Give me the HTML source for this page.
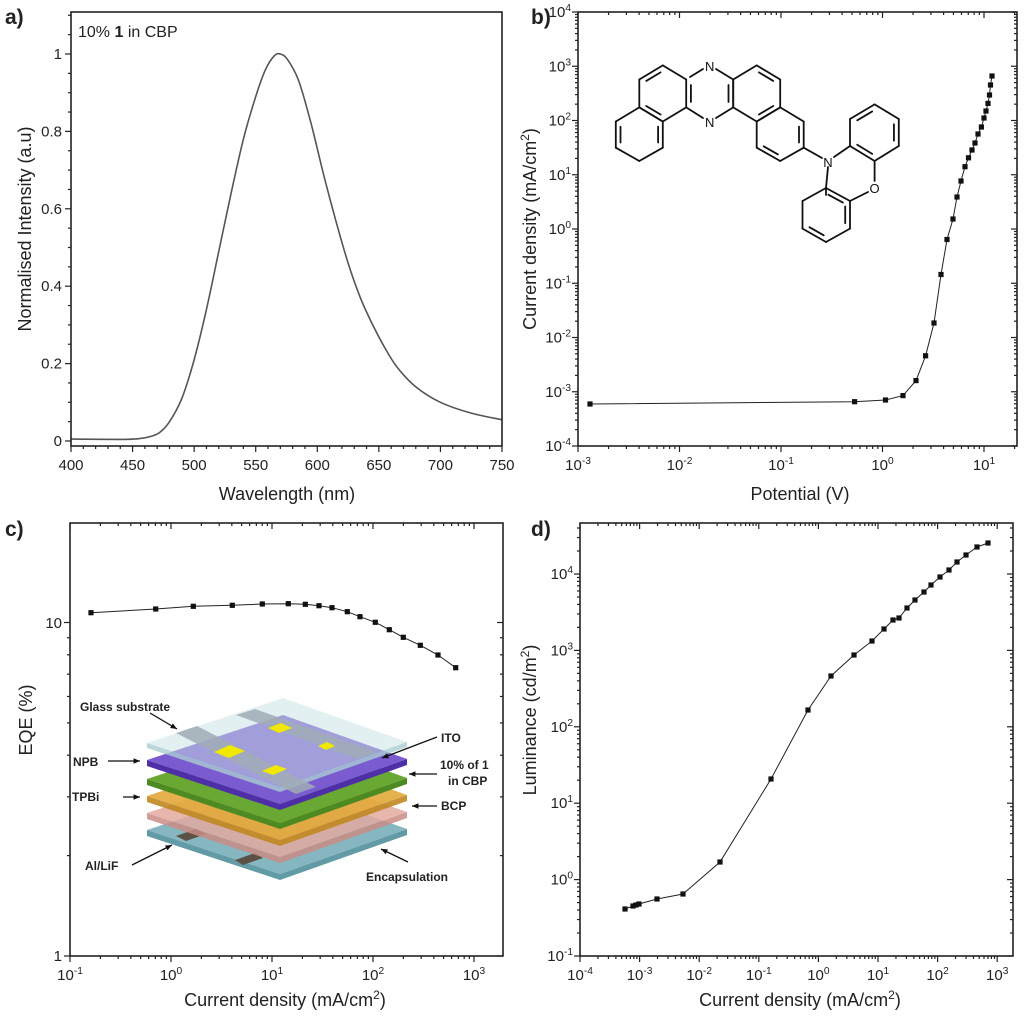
<!DOCTYPE html>
<html><head><meta charset="utf-8"><style>
html,body{margin:0;padding:0;background:#fff;}
svg{display:block;font-family:"Liberation Sans",Arial,sans-serif;}
</style></head><body>
<svg id="s" width="1024" height="1020" viewBox="0 0 1024 1020" xmlns="http://www.w3.org/2000/svg">
<rect width="1024" height="1020" fill="#fff"/>
<g id="g"></g>
<g id="dev" stroke="none">
</g>
<g id="mol" stroke="#111" stroke-width="1.8" fill="none" stroke-linecap="round"></g>
<g font-size="12" font-weight="bold" fill="#222">
<text x="80" y="711">Glass substrate</text>
<text x="73" y="766">NPB</text>
<text x="72" y="801">TPBi</text>
<text x="85" y="870">Al/LiF</text>
<text x="441" y="742">ITO</text>
<text x="440" y="769">10% of 1</text>
<text x="448" y="785">in CBP</text>
<text x="441" y="810">BCP</text>
<text x="366" y="881">Encapsulation</text>
</g>
</svg>
<script>
var NS="http://www.w3.org/2000/svg",G=document.getElementById('g');
function el(t,a,p,txt){var e=document.createElementNS(NS,t);for(var k in a)e.setAttribute(k,a[k]);if(txt!=null)e.textContent=txt;(p||G).appendChild(e);return e;}
function line(x1,y1,x2,y2,w,c,p){return el('line',{x1:x1,y1:y1,x2:x2,y2:y2,stroke:c||'#222','stroke-width':w||1},p);}
function txt(x,y,s,size,anchor,extra,p){var a={x:x,y:y,'font-size':size,'text-anchor':anchor||'middle',fill:'#222'};for(var k in extra)a[k]=extra[k];return el('text',a,p,s);}
function pow(x,y,e,size,anchor){var t=el('text',{x:x,y:y,'font-size':size,'text-anchor':anchor||'middle',fill:'#222'});
 var a=el('tspan',{},t,'10');var b=el('tspan',{dy:-6,'font-size':size*0.68},t,String(e));return t;}
function box(l,t,r,b){el('rect',{x:l,y:t,width:r-l,height:b-t,fill:'none',stroke:'#222','stroke-width':1.6});}
function logX(l,r,t,b,x0,e0,ppd,emin,emax,lab,top){
 for(var e=emin;e<=emax;e++){for(var k=1;k<10;k++){var x=x0+(e-e0+Math.log10(k))*ppd;if(x<l-0.5||x>r+0.5)continue;var L=k==1?6:3;
 line(x,b,x,b+L,1.2);if(top)line(x,t,x,t+L,1.2);
 if(k==1&&lab)pow(x,b+24,e,15);}}}
function logY(l,r,t,b,y0,e0,ppd,emin,emax,lab,right){
 for(var e=emin;e<=emax;e++){for(var k=1;k<10;k++){var y=y0-(e-e0+Math.log10(k))*ppd;if(y<t-0.5||y>b+0.5)continue;var L=k==1?6:3;
 line(l-L,y,l,y,1.2);if(right)line(r-L,y,r,y,1.2);
 if(k==1&&lab)pow(l-7,y+5,e,15,'end');}}}
function poly(pts,p){el('polyline',{points:pts.map(function(q){return q.join(',')}).join(' '),fill:'none',stroke:'#222','stroke-width':1},p);
 pts.forEach(function(q){el('rect',{x:q[0]-2.6,y:q[1]-2.6,width:5.2,height:5.2,fill:'#111'},p);});}

(function(){var l=71,r=502,t=12,b=446;
 var X=function(w){return l+(w-400)*(r-l)/350},Y=function(v){return 441-v*387};
 var d=[[400,.005],[440,.004],[455,.006],[465,.012],[472,.022],[480,.05],[490,.11],[500,.21],[510,.34],[520,.49],[530,.64],[540,.78],[550,.89],[558,.96],[565,.995],[570,1],[576,.985],[585,.93],[595,.82],[605,.69],[615,.57],[625,.46],[635,.37],[645,.3],[655,.24],[665,.19],[680,.14],[700,.1],[725,.072],[750,.055]];
 var s='M'+X(d[0][0])+','+Y(d[0][1]);
 for(var i=1;i<d.length;i++){var p0=d[Math.max(0,i-2)],p1=d[i-1],p2=d[i],p3=d[Math.min(d.length-1,i+1)];
  var c1=[X(p1[0])+(X(p2[0])-X(p0[0]))/6,Y(p1[1])+(Y(p2[1])-Y(p0[1]))/6],c2=[X(p2[0])-(X(p3[0])-X(p1[0]))/6,Y(p2[1])-(Y(p3[1])-Y(p1[1]))/6];
  s+=' C'+c1+' '+c2+' '+X(p2[0])+','+Y(p2[1]);}
 el('path',{d:s,fill:'none',stroke:'#555','stroke-width':1.6});
 box(l,t,r,b);
 for(var w=400;w<=750;w+=10){var x=X(w),L=w%50==0?6:3;line(x,b,x,b+L,1.2);if(w%50==0)txt(x,b+24,String(w),15);}
 for(var v=0;v<=1.12;v+=0.05){var y=Y(v);if(y<t)break;var mj=Math.abs(v/0.2-Math.round(v/0.2))<1e-6;line(l-(mj?6:3),y,l,y,1.2);
  if(mj)txt(l-9,y+5,String(Math.round(v*10)/10),15,'end');}
 txt(287,500,'Wavelength (nm)',18);
 txt(0,0,'Normalised Intensity (a.u)',18,'middle',{transform:'translate(31,229) rotate(-90)'});
 var t1=el('text',{x:78,y:37,'font-size':16,fill:'#222'});el('tspan',{},t1,'10%  ');el('tspan',{'font-weight':'bold'},t1,'1');el('tspan',{},t1,' in CBP');
 txt(5,24,'a)',21,'start',{'font-weight':'bold'});
})();

(function(){var l=578,r=1017,t=12,b=446;
 var pts=[[590,404],[854.6,401.7],[885.5,400],[903,395.6],[916,380.6],[925.6,355.8],[934,323],[941,274.5],[947,239.5],[953,219],[957,197],[961,181],[965,166.7],[968.5,157.8],[972,150],[975,143],[978,134],[981.4,127],[984,118],[986,111],[988,103.4],[989.5,95],[990.5,85],[992,76]];
 poly(pts);box(l,t,r,b);
 logX(l,r,t,b,578,-3,101.5,-3,1,true,true);
 logY(l,r,t,b,446,-4,54.25,-4,4,true,true);
 txt(800,500,'Potential (V)',18);
 var tt=txt(0,0,'',18,'middle',{transform:'translate(536,229) rotate(-90)'});
 el('tspan',{},tt,'Current density (mA/cm');el('tspan',{dy:-7,'font-size':12},tt,'2');el('tspan',{dy:7},tt,')');
 txt(531,24,'b)',21,'start',{'font-weight':'bold'});
})();

(function(){var l=70,r=503,t=523,b=956;
 var pts=[[91,612.7],[155.7,609],[193.3,606.3],[232.3,605.3],[262.3,604],[288.3,603.7],[305.3,604.3],[319,605.7],[332,607.7],[347.3,611.7],[360,616.7],[375.3,622.3],[389.3,629.7],[403.3,637.3],[420.3,645.3],[438,655],[455.7,667.7]];
 poly(pts);box(l,t,r,b);
 logX(l,r,t,b,70,-1,101,-1,3,true,true);
 logY(l,r,t,b,956,0,333.5,0,1,false,true);
 txt(l-8,961,'1',15,'end');txt(l-8,628,'10',15,'end');
 var tt=txt(285,1006,'',18);el('tspan',{},tt,'Current density (mA/cm');el('tspan',{dy:-7,'font-size':12},tt,'2');el('tspan',{dy:7},tt,')');
 txt(0,0,'EQE (%)',18,'middle',{transform:'translate(32,720) rotate(-90)'});
 txt(5,536,'c)',21,'start',{'font-weight':'bold'});
})();

(function(){var l=580,r=1013,t=523,b=956;
 var pts=[[625,909],[633,906],[636,905],[639,904],[657,899],[683,894],[720,862],[771,779],[808,710],[831,676],[854,655],[872,641],[884,629],[893,620],[899,618],[907,608],[915,600],[924,592],[931,585],[940,577],[949,570],[957,562],[966,555],[977,547],[988,543]];
 poly(pts);box(l,t,r,b);
 logX(l,r,t,b,580,-4,59.6,-4,3,true,true);
 logY(l,r,t,b,956,-1,76.4,-1,4,true,true);
 var tt=txt(800,1006,'',18);el('tspan',{},tt,'Current density (mA/cm');el('tspan',{dy:-7,'font-size':12},tt,'2');el('tspan',{dy:7},tt,')');
 var t2=txt(0,0,'',18,'middle',{transform:'translate(536,720) rotate(-90)'});el('tspan',{},t2,'Luminance (cd/m');el('tspan',{dy:-7,'font-size':12},t2,'2');el('tspan',{dy:7},t2,')');
 txt(531,536,'d)',21,'start',{'font-weight':'bold'});
})();

(function(){var D=document.getElementById('dev');
 function plate(yL,top,side,op,th){th=th||6;
  var L=[147,yL],T=[283,yL-45],R=[407,yL-1],B=[280,yL+44];
  el('polygon',{points:[L,B,[B[0],B[1]+th],[L[0],L[1]+th]].join(' '),fill:side,opacity:op},D);
  el('polygon',{points:[B,R,[R[0],R[1]+th],[B[0],B[1]+th]].join(' '),fill:side,opacity:op},D);
  el('polygon',{points:[L,T,R,B].join(' '),fill:top,opacity:op},D);}
 plate(830,'#7fb3bd','#5a95a0',0.95);
 el('polygon',{points:'176,836 196,829 206,834 186,841',fill:'#5b5144'},D);
 el('polygon',{points:'235,860 255,853 263,858 243,865',fill:'#5b5144'},D);
 plate(813,'#e3aaa0','#c98c84',0.85);
 plate(796,'#e2a83a','#c08720',0.9);
 plate(779,'#6aa834','#4d8a22',1);
 plate(760,'#7a5bd0','#4e2fa8',1);
 plate(743,'rgba(200,225,228,0.5)','rgba(170,205,210,0.8)',1,5);
 el('polygon',{points:'176,733 197,726 316,787 296,794',fill:'#a0acb6',opacity:0.85},D);
 el('polygon',{points:'236,715 255,709 377,752 357,759',fill:'#a0acb6',opacity:0.85},D);
 el('polygon',{points:'214,752 230,745 245,751 229,758',fill:'#f0e800'},D);
 el('polygon',{points:'262,771 276,765 287,769 273,775',fill:'#f0e800'},D);
 el('polygon',{points:'268,728 281,723 292,728 279,733',fill:'#f0e800'},D);
 el('polygon',{points:'318,746 327,742 335,746 326,750',fill:'#f0e800'},D);
 var ar=function(x1,y1,x2,y2){line(x1,y1,x2,y2,1.3,'#111',D);var a=Math.atan2(y2-y1,x2-x1);
  el('polygon',{points:[[x2,y2],[x2-7*Math.cos(a-0.4),y2-7*Math.sin(a-0.4)],[x2-7*Math.cos(a+0.4),y2-7*Math.sin(a+0.4)]].join(' '),fill:'#111'},D);};
 ar(150,713,177,729);ar(108,761,140,761);ar(123,797,140,797);ar(132,865,172,845);
 ar(437,737,382,758);ar(437,774,409,774);ar(437,806,412,806);ar(408,862,381,849);
})();

(function(){var M=document.getElementById('mol');
 function b(a,c){line(a[0],a[1],c[0],c[1],1.8,'#111',M);}
 function dbl(a,c,cx,cy){var f=0.2;var p=[a[0]+(cx-a[0])*f,a[1]+(cy-a[1])*f],q=[c[0]+(cx-c[0])*f,c[1]+(cy-c[1])*f];
  var s=[p[0]+(q[0]-p[0])*0.12,p[1]+(q[1]-p[1])*0.12],e=[q[0]-(q[0]-p[0])*0.12,q[1]-(q[1]-p[1])*0.12];b(s,e);}
 function ring(v,dbs,skip){var cx=0,cy=0;v.forEach(function(p){cx+=p[0];cy+=p[1]});cx/=6;cy/=6;
  for(var i=0;i<6;i++){if(skip&&skip.indexOf(i)>=0)continue;b(v[i],v[(i+1)%6]);}
  (dbs||[]).forEach(function(i){dbl(v[i],v[(i+1)%6],cx,cy);});}
 var A=[[662.8,65.4],[686.2,79.5],[686.2,107.4],[662.8,121.5],[639.3,107.4],[639.3,79.5]];
 var B=[[639.3,107.4],[662.8,121.5],[662.8,147.7],[639.3,161],[615.8,147.7],[615.8,121.5]];
 var Dd=[[756.7,65.4],[780.2,79.5],[780.2,107.4],[756.7,121.5],[733.2,107.4],[733.2,79.5]];
 var E=[[780.2,107.4],[803.7,121.5],[803.7,147.7],[780.2,161],[756.7,147.7],[756.7,121.5]];
 ring(A,[5,3]);ring(B,[1,4]);ring(Dd,[0,2]);ring(E,[1,3]);
 b([690,77],[703,69]);b([716,69],[733.2,79.5]);b([733.2,79.5],[733.2,107.4]);b([733.2,107.4],[716,118]);b([703,118],[686.2,107.4]);
 dbl([686.2,79.5],[686.2,107.4],709.7,93.5);dbl([733.2,79.5],[733.2,107.4],709.7,93.5);
 var U=[[850,119],[874.6,104.4],[898.8,119],[898.8,146],[874.6,161],[850,146]];
 ring(U,[0,2,4]);
 b([826,195],[826,188]);b([826,188],[850,201]);b([850,201],[850,228.6]);b([850,228.6],[826,242]);b([826,242],[802.5,228.6]);b([802.5,228.6],[802.5,201]);b([802.5,201],[826,188]);
 dbl([826,188],[850,201],826,215);dbl([826,242],[802.5,228.6],826,215);dbl([850,201],[850,228.6],826,215);
 b([803.7,147.7],[822,158]);b([834,157],[850,146]);b([828,167],[826,188]);
 b([874.6,161],[874.6,181]);b([868,192],[850,201]);
 var S=document.getElementById('s');
 el('text',{x:709.7,y:71,'font-size':13,'text-anchor':'middle',fill:'#111'},S,'N');
 el('text',{x:709.7,y:127,'font-size':13,'text-anchor':'middle',fill:'#111'},S,'N');
 el('text',{x:828,y:167,'font-size':13,'text-anchor':'middle',fill:'#111'},S,'N');
 el('text',{x:874.6,y:193,'font-size':13,'text-anchor':'middle',fill:'#111'},S,'O');
})();
</script>
</body></html>
